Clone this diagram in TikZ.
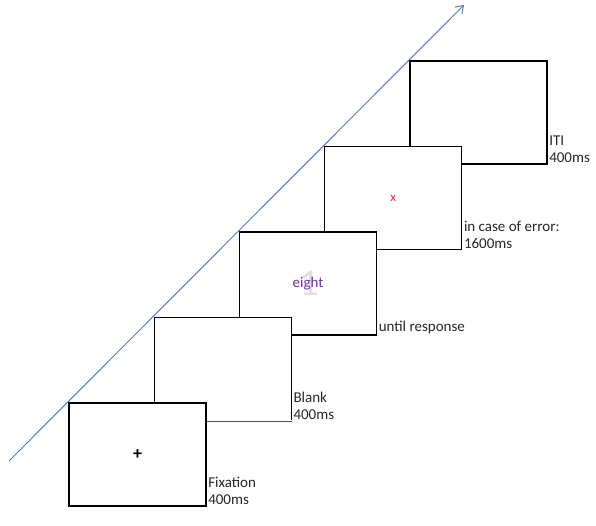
\documentclass[tikz,border=0pt]{standalone}
\usepackage{fontspec}
\setmainfont{Carlito}
\usetikzlibrary{arrows.meta}
\definecolor{axisblue}{RGB}{79,129,189}
\definecolor{wordpurple}{RGB}{112,48,160}
\definecolor{errred}{RGB}{230,40,50}
\tikzset{
  screen/.style={draw=black, line width=1.1pt, fill=white, minimum width=137pt, minimum height=103pt, inner sep=0pt},
  lbl/.style={anchor=south west, align=left, inner sep=1.5pt, font=\fontsize{15}{17}\selectfont, text=black!85},
}
\begin{document}
\begin{tikzpicture}[x=1pt,y=-1pt]
\useasboundingbox (0,0) rectangle (596,525);
% time axis
\coordinate (tstart) at (9,461);
\coordinate (tend) at (464,5);
\draw[axisblue, line width=1pt, -{Straight Barb[length=7pt,width=10pt]}] (tstart) -- (tend);
% screens, back to front
\node[screen] (s5) at (478.5,112.5) {};
\node[screen] (s4) at (393.25,198) {\textcolor{errred}{\fontsize{13}{13}\selectfont x}};
\node[screen] (s3) at (308,283.5) {};
\node[text=black!12, font=\fontsize{38}{38}\selectfont, inner sep=0pt] (ghost) at (309,283) {1};
\node[text=wordpurple, font=\fontsize{15}{15}\selectfont] (word) at (s3.center) {eight};
\node[screen] (s2) at (222.75,369) {};
\draw[white, line width=1.4pt] (s2.south west) -- (s2.south east);
\draw[black!70, line width=0.7pt] (s2.south west) -- (s2.south east);
\node[screen] (s1) at (137.5,454.5) {\fontsize{18}{18}\selectfont\textbf{+}};
% labels
\node[lbl] (l1) at (s1.south east) {Fixation\\400ms};
\node[lbl] (l2) at (s2.south east) {Blank\\400ms};
\node[lbl] (l3) at (s3.south east) {until response};
\node[lbl] (l4) at (s4.south east) {in case of error:\\1600ms};
\node[lbl] (l5) at (s5.south east) {ITI\\400ms};
\end{tikzpicture}
\end{document}
